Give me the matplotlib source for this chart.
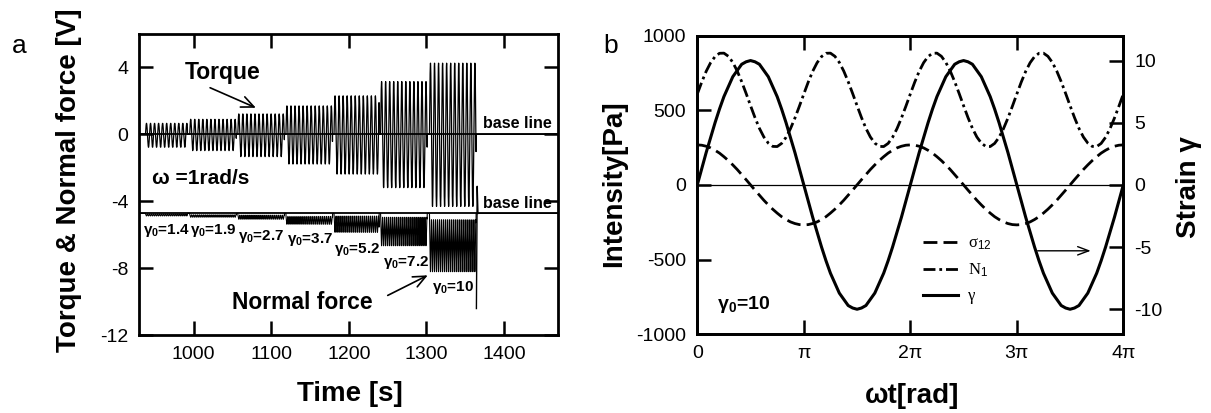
import numpy as np
import matplotlib
matplotlib.use('Agg')
import matplotlib.pyplot as plt

plt.rcParams['font.family'] = ['Liberation Sans', 'DejaVu Sans']
plt.rcParams['mathtext.fontset'] = 'custom'
plt.rcParams['mathtext.rm'] = 'Liberation Sans'
plt.rcParams['mathtext.bf'] = 'Liberation Sans:bold'
plt.rcParams['mathtext.it'] = 'Liberation Sans:italic'
plt.rcParams['axes.unicode_minus'] = False

# --- panel a: strain sweep at 1 rad/s, one block per strain amplitude ---
STRAIN_AMPS = ['1.4', '1.9', '2.7', '3.7', '5.2', '7.2', '10']
BLOCK_START = [938, 995, 1057, 1119, 1181, 1241, 1304]      # s
BLOCK_END = [992, 1055, 1117, 1179, 1239, 1301, 1364]       # s
TORQUE_TOP = [0.66, 0.90, 1.22, 1.70, 2.30, 3.15, 4.25]     # V
TORQUE_BOTTOM = [-0.77, -0.97, -1.33, -1.77, -2.37, -3.18, -4.30]
NF_TOP = [-4.75, -4.80, -4.82, -4.90, -4.88, -4.95, -5.10]  # V
NF_BOTTOM = [-4.87, -4.95, -5.07, -5.37, -5.85, -6.65, -8.20]
NF_BASE = -4.72
NF_END_T = [1364.5, 1365.5, 1366.5]   # transient when the drive stops
NF_END_V = [-10.4, -3.1, NF_BASE]
SIGNAL_PERIOD = 5.2   # s, peak spacing as seen on the trace

# --- panel b: gamma0 = 10, values read every pi/24 over 0..4pi ---
GAMMA_CYCLE = [0, 1.3, 2.6, 3.8, 5.0, 6.1, 7.1, 7.9, 8.7, 9.2, 9.7, 9.9,
               10.0, 9.9, 9.7, 9.2, 8.7, 7.9, 7.1, 6.1, 5.0, 3.8, 2.6, 1.3,
               0, -1.3, -2.6, -3.8, -5.0, -6.1, -7.1, -7.9, -8.7, -9.2, -9.7, -9.9,
               -10.0, -9.9, -9.7, -9.2, -8.7, -7.9, -7.1, -6.1, -5.0, -3.8, -2.6, -1.3]
SIGMA_CYCLE = [268, 266, 259, 248, 232, 213, 189, 163, 134, 103, 69, 35,
               0, -35, -69, -103, -134, -163, -189, -213, -232, -248, -259, -266,
               -268, -266, -259, -248, -232, -213, -189, -163, -134, -103, -69, -35,
               0, 35, 69, 103, 134, 163, 189, 213, 232, 248, 259, 266]
N1_CYCLE = [609, 689, 761, 819, 860, 882, 883, 862, 821, 763, 692, 613,
            531, 451, 379, 321, 280, 258, 257, 278, 319, 377, 448, 527]
GAMMA = GAMMA_CYCLE + GAMMA_CYCLE + [0]
SIGMA12 = SIGMA_CYCLE + SIGMA_CYCLE + [268]
N1 = N1_CYCLE * 4 + [609]
PI_TICKS = ['0', 'π', '2π', '3π', '4π']

# layout of the strain labels in panel a
LABEL_X = [934.4, 995.4, 1057.7, 1120.2, 1181.6, 1243.5, 1307.3]
LABEL_Y = [-5.71, -5.75, -6.10, -6.25, -6.86, -7.64, -9.13]

SPINE_W = 2.0
TICK_KW = dict(direction='in', length=10, width=1.8, labelsize=14)

fig = plt.figure(figsize=(12.11, 4.13), dpi=100)

# ---------------- panel a ----------------
ax = fig.add_axes([0.115, 0.188, 0.346, 0.730])

t = np.arange(930, 1470, 0.05)
torque = np.zeros_like(t)
normal = np.full_like(t, NF_BASE)
for i in range(len(BLOCK_START)):
    m = (t >= BLOCK_START[i]) & (t <= BLOCK_END[i])
    ph = (t[m] - BLOCK_START[i]) / SIGNAL_PERIOD
    w = np.sin(2 * np.pi * ph)
    torque[m] = np.where(w > 0, TORQUE_TOP[i] * w, -TORQUE_BOTTOM[i] * w)
    w2 = 0.5 - 0.5 * np.cos(4 * np.pi * ph)
    normal[m] = NF_TOP[i] + (NF_BOTTOM[i] - NF_TOP[i]) * w2

ax.axhline(0, color='black', lw=1.3)
ax.axhline(NF_BASE, color='black', lw=1.3)
ax.plot(t, torque, color='black', lw=0.9)
ax.plot(t, normal, color='black', lw=0.8)
ax.plot(NF_END_T, NF_END_V, color='black', lw=1.0)

for i, s in enumerate(STRAIN_AMPS):
    ax.text(LABEL_X[i], LABEL_Y[i], r'γ$_\mathbf{0}$=' + s, fontsize=11,
            fontweight='bold', ha='left', va='center')

ax.text(1373, 0.37, 'base line', fontsize=11.5, fontweight='bold', va='baseline')
ax.text(1373, -4.40, 'base line', fontsize=11.5, fontweight='bold', va='baseline')
ax.text(989, 3.7, 'Torque', fontsize=16.5, fontweight='bold', va='center')
ax.text(946, -2.66, 'ω =1rad/s', fontsize=15, fontweight='bold', va='center')
ax.text(1049, -10.04, 'Normal force', fontsize=16.5, fontweight='bold', va='center')
arrow = dict(arrowstyle='->,head_length=0.9,head_width=0.4', lw=1.2, color='black')
ax.annotate('', xy=(1083.6, 1.52), xytext=(1018, 2.85), arrowprops=arrow)
ax.annotate('', xy=(1305, -8.34), xytext=(1247, -9.69), arrowprops=arrow)

ax.set_xlim(930, 1470)
ax.set_ylim(-12, 6)
ax.set_xticks([1000, 1100, 1200, 1300, 1400])
ax.set_yticks([-12, -8, -4, 0, 4])
ax.tick_params(top=True, right=True, pad=8, **TICK_KW)
for sp in ax.spines.values():
    sp.set_linewidth(SPINE_W)
ax.set_xlabel('Time [s]', fontsize=20, fontweight='bold')
ax.set_ylabel('Torque & Normal force [V]', fontsize=20, fontweight='bold')
ax.xaxis.set_label_coords(0.503, -0.15)
ax.yaxis.set_label_coords(-0.137, 0.515)

# ---------------- panel b ----------------
bx = fig.add_axes([0.5758, 0.191, 0.3518, 0.7226])
bx2 = bx.twinx()
phase = np.arange(len(GAMMA)) * np.pi / 24

bx.axhline(0, color='black', lw=0.9)
l_sig, = bx.plot(phase, SIGMA12, color='black', lw=2.0,
                 linestyle=(0, (5, 2.2)))
l_n1, = bx.plot(phase, N1, color='black', lw=2.0,
                linestyle=(0, (4.3, 1.4, 1.0, 1.4)))
l_gam, = bx2.plot(phase, GAMMA, color='black', lw=2.2)

bx.set_xlim(0, 4 * np.pi)
bx.set_ylim(-1000, 1000)
bx2.set_ylim(-12, 12)
bx.set_xticks(np.arange(5) * np.pi)
bx.set_xticklabels(PI_TICKS)
bx.set_yticks([-1000, -500, 0, 500, 1000])
bx2.set_yticks([-10, -5, 0, 5, 10])
bx.tick_params(top=True, right=False, pad=8, **TICK_KW)
bx2.tick_params(pad=8, **TICK_KW)
for a in (bx, bx2):
    for sp in a.spines.values():
        sp.set_linewidth(SPINE_W)

bx.text(0.59, -800, r'γ$_\mathbf{0}$=10', fontsize=14, fontweight='bold',
        ha='left', va='center')
bx2.annotate('', xy=(3.72 * np.pi, -5.3), xytext=(3.17 * np.pi, -5.3),
             arrowprops=dict(arrowstyle='->,head_length=0.8,head_width=0.3',
                             lw=1.0, color='black'))

bx2.legend([l_sig, l_n1, l_gam], ['σ$_{12}$', 'N$_1$', 'γ'],
           loc='upper left', bbox_to_anchor=(0.53, 0.33), frameon=False,
           prop={'family': 'Liberation Serif', 'size': 12},
           handlelength=2.1, handletextpad=0.6, labelspacing=0.55,
           borderpad=0, borderaxespad=0)

bx.set_xlabel('ωt[rad]', fontsize=20, fontweight='bold')
bx.set_ylabel('Intensity[Pa]', fontsize=20, fontweight='bold')
bx2.set_ylabel('Strain γ', fontsize=20, fontweight='bold')
bx.xaxis.set_label_coords(0.505, -0.164)
bx.yaxis.set_label_coords(-0.165, 0.503)
bx2.yaxis.set_label_coords(1.124, 0.494)

fig.text(0.0157, 0.889, 'a', fontsize=19, ha='center', va='center')
fig.text(0.504, 0.889, 'b', fontsize=19, ha='center', va='center')

fig.savefig('out.png', dpi=100)
